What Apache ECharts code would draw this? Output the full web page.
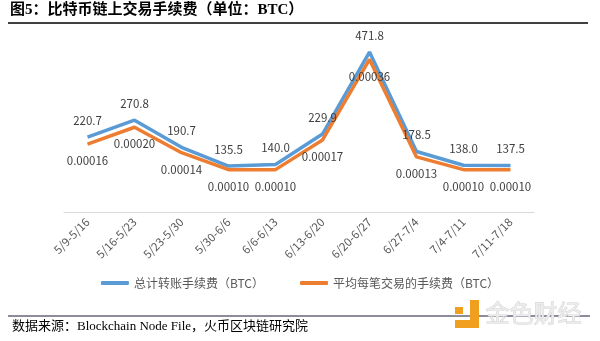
<!DOCTYPE html>
<html><head><meta charset="utf-8">
<script src="https://cdn.jsdelivr.net/npm/echarts@6/dist/echarts.min.js"></script>
<style>html,body{margin:0;padding:0;background:#fff}#c{width:600px;height:341px}</style>
</head><body><div id="c"></div>
<script>
const categories = ['5/9-5/16','5/16-5/23','5/23-5/30','5/30-6/6','6/6-6/13','6/13-6/20','6/20-6/27','6/27-7/4','7/4-7/11','7/11-7/18'];
const totalFee = [220.7, 270.8, 190.7, 135.5, 140.0, 229.9, 471.8, 178.5, 138.0, 137.5];
const avgFee = [0.00016, 0.00020, 0.00014, 0.00010, 0.00010, 0.00017, 0.00036, 0.00013, 0.00010, 0.00010];
const seriesNames = ['总计转账手续费（BTC）', '平均每笔交易的手续费（BTC）'];
const titleText = '图5：比特币链上交易手续费（单位：BTC）';
const sourceText = '数据来源：Blockchain Node File，火币区块链研究院';

const chart = echarts.init(document.getElementById('c'));
const FONT = '"Noto Sans CJK SC", "Noto Sans", sans-serif';
chart.setOption({
  animation: false,
  textStyle: {fontFamily: FONT},
  grid: {left: 64, right: 66, top: 42.5, bottom: 129},
  legend: {
    bottom: 47, left: 'center', itemGap: 36,
    itemWidth: 28, itemHeight: 4, icon: 'roundRect',
    textStyle: {fontSize: 12, color: '#595959', fontFamily: FONT},
    data: seriesNames
  },
  xAxis: {
    type: 'category', data: categories, boundaryGap: true,
    axisLine: {lineStyle: {color: '#d9d9d9'}},
    axisTick: {show: false},
    axisLabel: {rotate: 45, fontSize: 11.5, color: '#595959', interval: 0, margin: 8, fontFamily: FONT}
  },
  yAxis: [
    {type: 'value', min: 0, max: 500, show: false, splitLine: {show: false}},
    {type: 'value', min: 0, max: 0.0004, show: false, splitLine: {show: false}}
  ],
  series: [
    {
      name: seriesNames[0], type: 'line', data: totalFee, yAxisIndex: 0,
      symbol: 'circle', symbolSize: 0.1, showSymbol: true,
      lineStyle: {width: 3.5, color: '#5b9bd5'}, itemStyle: {color: '#5b9bd5'},
      label: {show: true, position: 'top', distance: 11, fontSize: 11.5, color: '#404040',
        formatter: p => p.value.toFixed(1)}
    },
    {
      name: seriesNames[1], type: 'line', data: avgFee, yAxisIndex: 1,
      symbol: 'circle', symbolSize: 0.1, showSymbol: true,
      lineStyle: {width: 3.5, color: '#ed7d31'}, itemStyle: {color: '#ed7d31'},
      label: {show: true, position: 'bottom', distance: 11, fontSize: 11.5, color: '#404040',
        formatter: p => p.value.toFixed(5)}
    }
  ],
  graphic: [
    {type: 'text', left: 10, top: 3, style: {text: titleText, font: 'bold 15px "Liberation Serif", "Noto Sans CJK SC", serif', fill: '#000'}},
    {type: 'line', shape: {x1: 8, y1: 23, x2: 588, y2: 23}, style: {stroke: '#000', lineWidth: 1.5}},
    {type: 'line', shape: {x1: 8, y1: 316, x2: 590, y2: 316}, style: {stroke: '#1a1a3a', lineWidth: 1.2}},
    {type: 'text', left: 12, top: 320, style: {text: sourceText, font: '13px "Liberation Serif", "Noto Sans CJK SC", serif', fill: '#000'}},
    {type: 'rect', shape: {x: 455, y: 307, width: 8, height: 7}, style: {fill: '#f0a01e'}},
    {type: 'rect', shape: {x: 470, y: 300, width: 9, height: 28}, style: {fill: '#f0a01e'}},
    {type: 'rect', shape: {x: 455, y: 320, width: 24, height: 8}, style: {fill: '#f0a01e'}},
    {type: 'text', left: 485, top: 300, style: {text: '金色财经', font: '24px "Noto Sans CJK SC", sans-serif', fill: '#ececec', stroke: '#cfcfcf', lineWidth: 0.8}}
  ]
});
</script></body></html>
